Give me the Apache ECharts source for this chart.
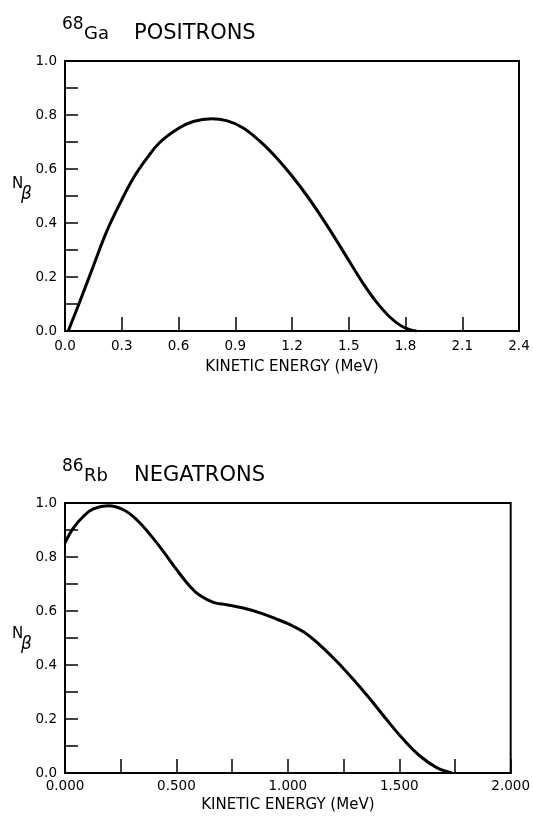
<!DOCTYPE html>
<html>
<head>
<meta charset="utf-8">
<script src="https://cdn.jsdelivr.net/npm/echarts@6/dist/echarts.min.js"></script>
<style>
  html, body { margin: 0; padding: 0; background: #fff; }
  #chart { width: 533px; height: 819px; }
</style>
</head>
<body>
<div id="chart"></div>
<script>
// 68Ga positron spectrum (kinetic energy in MeV, relative N_beta)
const gaEnergy = [0.017, 0.079, 0.150, 0.220, 0.296, 0.361, 0.432, 0.502, 0.599, 0.678,
  0.775, 0.854, 0.940, 1.030, 1.120, 1.200, 1.280, 1.360, 1.440, 1.510,
  1.580, 1.650, 1.720, 1.790, 1.858];
const gaCounts = [0.000, 0.110, 0.241, 0.368, 0.480, 0.566, 0.639, 0.699, 0.750, 0.776,
  0.786, 0.779, 0.753, 0.703, 0.640, 0.574, 0.500, 0.418, 0.330, 0.250,
  0.172, 0.104, 0.050, 0.014, 0.000];

// 86Rb negatron spectrum
const rbEnergy = [0.000, 0.037, 0.082, 0.127, 0.194, 0.262, 0.322, 0.382, 0.441, 0.501,
  0.561, 0.606, 0.666, 0.726, 0.800, 0.875, 0.950, 1.000, 1.070, 1.145,
  1.220, 1.294, 1.369, 1.444, 1.518, 1.593, 1.668, 1.736];
const rbCounts = [0.852, 0.907, 0.950, 0.978, 0.990, 0.975, 0.938, 0.883, 0.821, 0.753,
  0.691, 0.657, 0.632, 0.623, 0.611, 0.593, 0.570, 0.553, 0.523, 0.473,
  0.413, 0.346, 0.274, 0.197, 0.125, 0.063, 0.020, 0.000];

const yTicks = { min: 0, max: 1, interval: 0.2 };
const gaXTicks = { min: 0, max: 2.4, interval: 0.3 };
const rbXTicks = { min: 0, max: 2, interval: 0.5 };

const FONT = 'DejaVu Sans';
const zip = (xs, ys) => xs.map((x, i) => [x, ys[i]]);

function xAxisFor(gridIndex, ticks, digits, minor, labelGap, nameGap) {
  return {
    type: 'value',
    gridIndex,
    min: ticks.min,
    max: ticks.max,
    interval: ticks.interval,
    name: 'KINETIC ENERGY (MeV)',
    nameLocation: 'middle',
    nameGap,
    nameTextStyle: { color: '#000', fontFamily: FONT, fontSize: 15 },
    axisLine: { show: true, lineStyle: { color: '#000', width: 2 } },
    axisTick: { show: true, inside: true, length: 14, lineStyle: { color: '#000', width: 1.5 } },
    minorTick: { show: minor, splitNumber: 2, length: 14, lineStyle: { color: '#000', width: 1.5 } },
    axisLabel: {
      color: '#000', fontFamily: FONT, fontSize: 13.5, margin: labelGap,
      formatter: v => v.toFixed(digits)
    },
    splitLine: { show: false }
  };
}

function yAxisFor(gridIndex) {
  return {
    type: 'value',
    gridIndex,
    min: yTicks.min,
    max: yTicks.max,
    interval: yTicks.interval,
    axisLine: { show: true, lineStyle: { color: '#000', width: 2 } },
    axisTick: { show: true, inside: true, length: 13, lineStyle: { color: '#000', width: 1.5 } },
    minorTick: { show: true, splitNumber: 2, length: 13, lineStyle: { color: '#000', width: 1.5 } },
    axisLabel: {
      color: '#000', fontFamily: FONT, fontSize: 13.5, margin: 8,
      formatter: v => v.toFixed(1)
    },
    splitLine: { show: false }
  };
}

// title pieces (offset dy) and the N-beta axis name (offset ny) for one panel
function panelText(dy, ny, mass, element, kind) {
  const txt = (x, y, text, size, extra) => ({
    type: 'text', left: x, top: y,
    style: Object.assign({ text, fill: '#000', font: size + 'px "' + FONT + '"' }, extra || {})
  });
  return [
    txt(62, 16 + dy, mass, 17),
    txt(84, 25 + dy, element, 18),
    txt(134, 23 + dy, kind, 21),
    txt(12, 177 + ny, 'N', 15),
    txt(21, 186 + ny, 'β', 17, { font: 'italic 17px "' + FONT + '"' })
  ];
}

const chart = echarts.init(document.getElementById('chart'), null, { renderer: 'canvas' });

chart.setOption({
  animation: false,
  backgroundColor: '#fff',
  grid: [
    { left: 65, right: 14, top: 61, height: 270, show: true, borderColor: '#000', borderWidth: 2 },
    { left: 65, right: 22, top: 503, height: 270, show: true, borderColor: '#000', borderWidth: 2 }
  ],
  xAxis: [
    xAxisFor(0, gaXTicks, 1, false, 8, 29),
    xAxisFor(1, rbXTicks, 3, true, 6, 25)
  ],
  yAxis: [yAxisFor(0), yAxisFor(1)],
  graphic: [].concat(
    panelText(0, 0, '68', 'Ga', 'POSITRONS'),
    panelText(442, 450, '86', 'Rb', 'NEGATRONS')
  ),
  series: [
    {
      type: 'line', xAxisIndex: 0, yAxisIndex: 0,
      data: zip(gaEnergy, gaCounts),
      smooth: 0.4, showSymbol: false,
      lineStyle: { color: '#000', width: 3 }
    },
    {
      type: 'line', xAxisIndex: 1, yAxisIndex: 1,
      data: zip(rbEnergy, rbCounts),
      smooth: 0.4, showSymbol: false,
      lineStyle: { color: '#000', width: 3 }
    }
  ]
});
</script>
</body>
</html>
